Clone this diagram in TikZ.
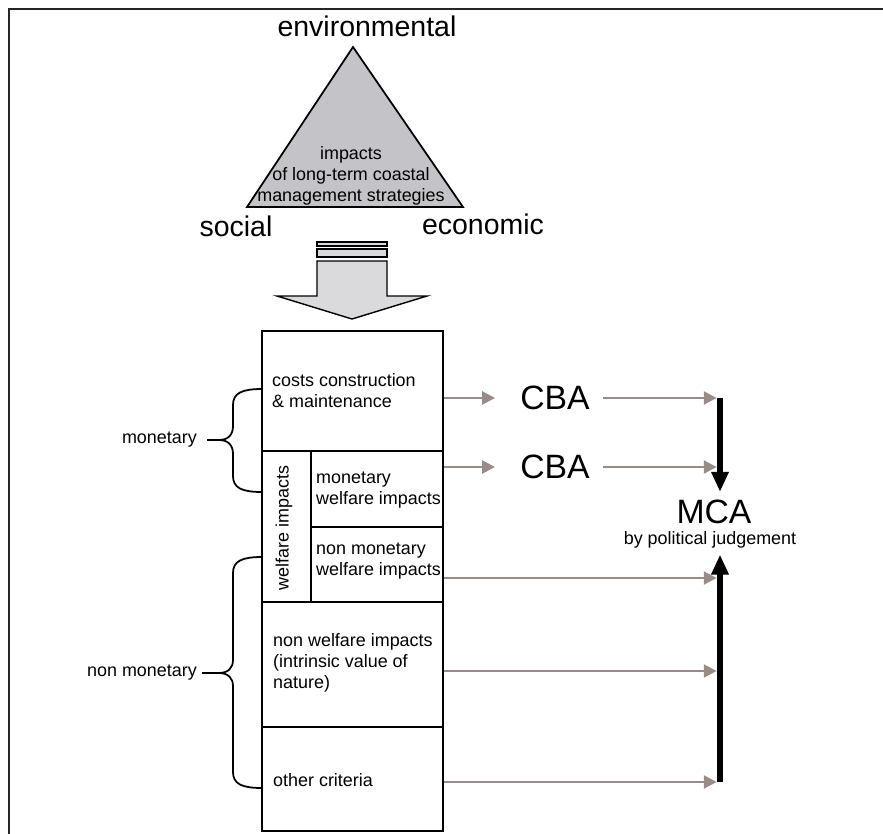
\documentclass[tikz,border=0pt]{standalone}
\usepackage{fontspec}
\setmainfont{Liberation Sans}
\usetikzlibrary{arrows.meta}
\definecolor{linkgray}{RGB}{152,140,137}
\definecolor{trigray}{RGB}{196,196,200}
\definecolor{arrgray}{RGB}{218,218,220}
\tikzset{
    frame/.style={
        line width=2.5pt,
        draw=black!85
    },
    corner/.style={
        font=\fontsize{24.3}{29}\selectfont,
        inner sep=0pt
    },
    smalltext/.style={
        font=\fontsize{15.3}{17.9}\selectfont,
        align=left,
        inner sep=0pt
    },
    cell/.style={
        draw,
        line width=1.4pt,
        inner sep=0pt
    },
    method/.style={
        font=\fontsize{28.8}{34}\selectfont,
        inner xsep=0.39cm,
        inner ysep=0pt
    },
    link/.style={
        draw=linkgray,
        line width=2.2pt,
        -{Triangle[length=11pt,width=11pt]}
    },
    judge/.style={
        line width=5pt,
        -{Triangle[length=17pt,width=14pt]}
    },
    bracket/.style={
        line width=1.5pt
    }
}

\begin{document}
\begin{tikzpicture}[x=0.03cm, y=-0.03cm]
\useasboundingbox (0,0) rectangle (883,834);
\draw[frame] (9,834) -- (9,9) -- (883,9);

% triangle of impacts
\draw[fill=trigray, line width=1.5pt] (353,47) -- (247,207) -- (463,207) -- cycle;
\node[smalltext, align=center] (imp) at (351,176) {impacts\\of long-term coastal\\management strategies};
\node[corner] (env) at (367,26) {environmental};
\node[corner] (soc) at (236,226) {social};
\node[corner] (eco) at (483,224) {economic};

% block arrow
\draw[fill=arrgray, line width=1.2pt] (317,242) rectangle (387,246);
\draw[fill=arrgray, line width=1.2pt] (317,249) rectangle (387,257);
\draw[fill=arrgray, line width=1.2pt] (317,261) -- (387,261) -- (387,296) -- (427,296)
  -- (352,319) -- (277,296) -- (317,296) -- cycle;

% table of criteria
\node[cell, minimum width=5.43cm, minimum height=3.6cm] (costs) at (352.5,391) {};
\node[cell, minimum width=1.47cm, minimum height=4.53cm] (welcol) at (286.5,526.5) {};
\node[cell, minimum width=3.96cm, minimum height=2.28cm] (monwel) at (377,489) {};
\node[cell, minimum width=3.96cm, minimum height=2.25cm] (nmwel) at (377,564.5) {};
\node[cell, minimum width=5.43cm, minimum height=3.75cm] (nonwel) at (352.5,664.5) {};
\node[cell, minimum width=5.43cm, minimum height=3.12cm] (other) at (352.5,779) {};

\node[smalltext, anchor=west] (costst) at (272,390.5) {costs construction\\\& maintenance};
\node[smalltext, rotate=90] (welcolt) at (284,528) {welfare impacts};
\node[smalltext, anchor=west] (monwelt) at (316,490.5) {monetary\\welfare impacts};
\node[smalltext, anchor=west] (nmwelt) at (316,561) {non monetary\\welfare impacts};
\node[smalltext, anchor=west] (nonwelt) at (273,663) {non welfare impacts\\(intrinsic value of\\nature)};
\node[smalltext, anchor=west] (othert) at (273,780) {other criteria};

% braces
\coordinate (montip) at (219,440);
\coordinate (nmontip) at (219,673);
\draw[bracket] (262,389) .. controls (242,389) and (233,393) .. (233,405) -- (233,426)
  .. controls (233,435) and (228,440) .. (montip) .. controls (228,440) and (233,445) .. (233,454)
  -- (233,476) .. controls (233,488) and (242,492) .. (262,492);
\draw[bracket] (262,557) .. controls (242,557) and (233,561) .. (233,573) -- (233,660)
  .. controls (233,668) and (228,673) .. (nmontip) .. controls (228,673) and (233,678) .. (233,686)
  -- (233,772) .. controls (233,784) and (242,788) .. (262,788);
\node[smalltext, anchor=east] (mon) at (197,440) {monetary};
\node[smalltext, anchor=east] (nmon) at (197,673) {non monetary};
\draw[bracket, shorten <=0.3cm] (mon.east) -- (montip);
\draw[bracket, shorten <=0.15cm] (nmon.east) -- (nmontip);

% analysis
\node[method] (cba1) at (555,398) {CBA};
\node[method] (cba2) at (555,467) {CBA};
\node[method, inner xsep=0pt, inner ysep=0.24cm] (mca) at (714,512) {MCA};
\node[smalltext, inner ysep=0.18cm] (pol) at (710,540) {by political judgement};

\coordinate (s1) at (720,398);
\coordinate (s2) at (720,467);
\coordinate (s3) at (720,578);
\coordinate (s4) at (720,671);
\coordinate (s5) at (720,782);

\draw[link, shorten >=0.36cm] (costs.east |- cba1) -- (cba1.west);
\draw[link, shorten >=0.36cm] (monwel.east |- cba2) -- (cba2.west);
\draw[link, shorten >=0.1cm] (cba1.east) -- (s1);
\draw[link, shorten >=0.1cm] (cba2.east) -- (s2);
\draw[link, shorten >=0.1cm] (nmwel.east |- s3) -- (s3);
\draw[link, shorten >=0.1cm] (nonwel.east |- s4) -- (s4);
\draw[link, shorten >=0.1cm] (other.east |- s5) -- (s5);

\draw[judge] (s1) -- (s1 |- mca.north);
\draw[judge] (s5) -- (s5 |- pol.south);
\end{tikzpicture}
\end{document}
